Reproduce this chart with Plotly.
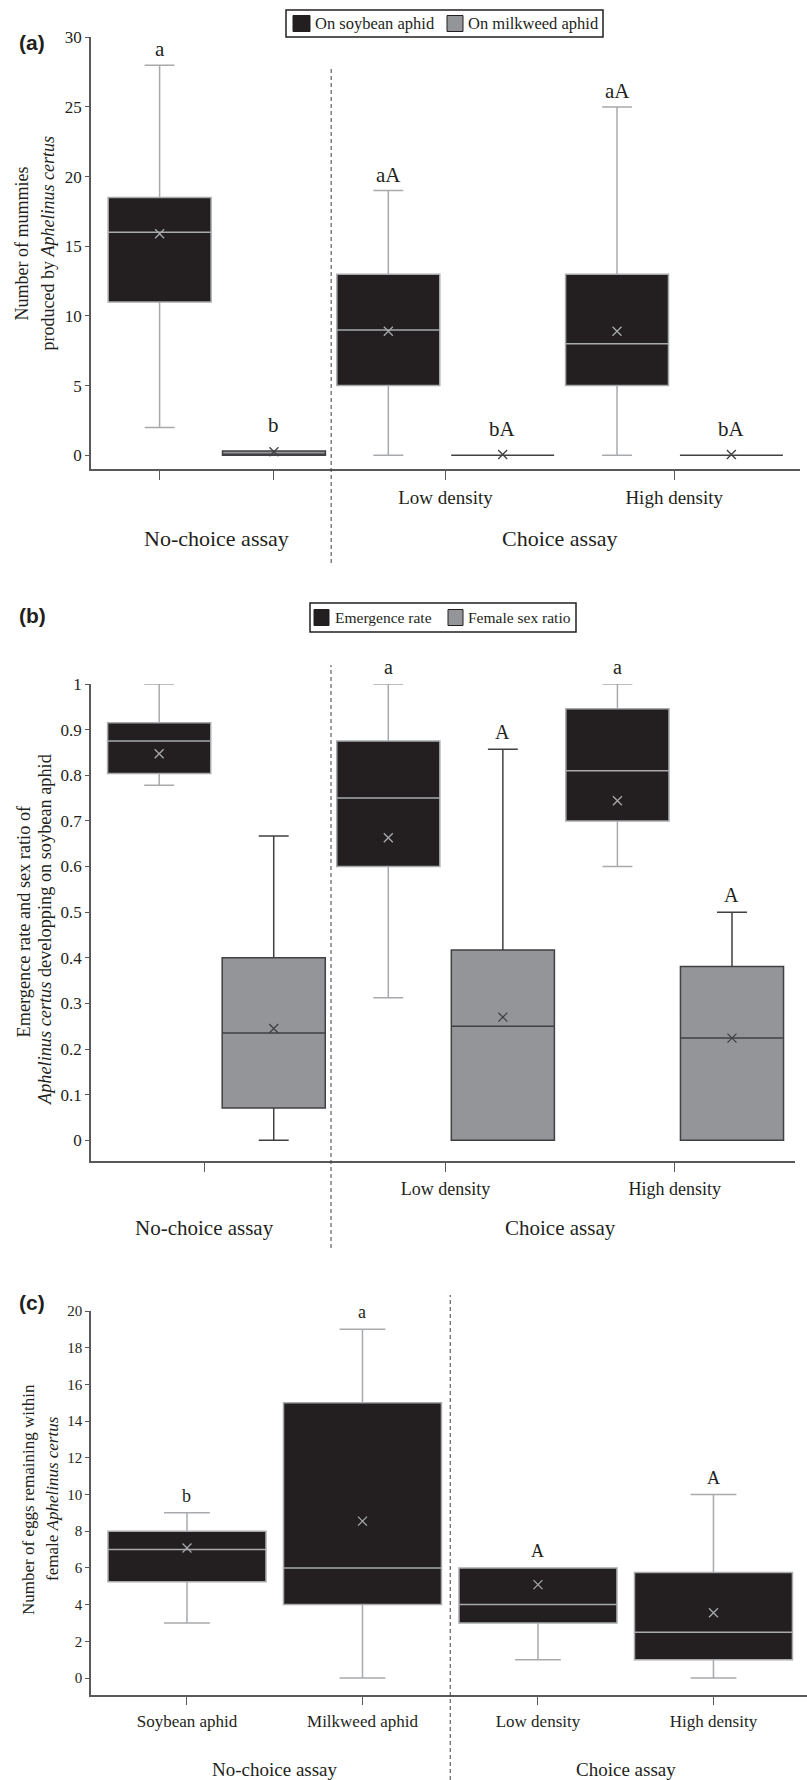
import plotly.graph_objects as go

W, H = 807, 1780


def fx(p):
    return p / W


def fy(p):
    return 1 - p / H


SERIF = "Liberation Serif, Times New Roman, serif"
SANS = "Liberation Sans, Arial, sans-serif"
INK = "#231f20"
DARK_FILL = "#231f20"
GRAY_FILL = "#939598"
LIGHT_LINE = "#a7a9ac"
DARK_LINE = "#414042"
AXIS = "#58595b"

# ---------------- data ----------------
assay_labels = ["No-choice assay", "Choice assay"]

# (a) number of mummies
a_groups = ["", "Low density", "High density"]
a_series = ["On soybean aphid", "On milkweed aphid"]
a_soy_lower = [2, 0, 0]
a_soy_q1 = [11, 5, 5]
a_soy_median = [16, 9, 8]
a_soy_q3 = [18.5, 13, 13]
a_soy_upper = [28, 19, 25]
a_soy_mean = [15.9, 8.9, 8.9]
a_soy_letters = ["a", "aA", "aA"]
a_mw_lower = [0, 0, 0]
a_mw_q1 = [0, 0, 0]
a_mw_median = [0, 0, 0]
a_mw_q3 = [0.3, 0, 0]
a_mw_upper = [0.3, 0, 0]
a_mw_mean = [0.25, 0.05, 0.05]
a_mw_letters = ["b", "bA", "bA"]
a_yticks = [0, 5, 10, 15, 20, 25, 30]
a_ytitle = ["Number of mummies", "produced by <i>Aphelinus certus</i>"]

# (b) emergence rate and sex ratio
b_groups = ["", "Low density", "High density"]
b_series = ["Emergence rate", "Female sex ratio"]
b_em_lower = [0.778, 0.3125, 0.6]
b_em_q1 = [0.804, 0.6, 0.7]
b_em_median = [0.875, 0.75, 0.81]
b_em_q3 = [0.915, 0.875, 0.946]
b_em_upper = [1.0, 1.0, 1.0]
b_em_mean = [0.847, 0.663, 0.744]
b_em_letters = ["", "a", "a"]
b_sr_lower = [0, 0, 0]
b_sr_q1 = [0.071, 0, 0]
b_sr_median = [0.235, 0.25, 0.224]
b_sr_q3 = [0.4, 0.417, 0.381]
b_sr_upper = [0.667, 0.857, 0.5]
b_sr_mean = [0.245, 0.27, 0.224]
b_sr_letters = ["", "A", "A"]
b_yticks = [0, 0.1, 0.2, 0.3, 0.4, 0.5, 0.6, 0.7, 0.8, 0.9, 1]
b_yticktext = ["0", "0.1", "0.2", "0.3", "0.4", "0.5", "0.6", "0.7", "0.8", "0.9", "1"]
b_ytitle = ["Emergence rate and sex ratio of",
            "<i>Aphelinus certus</i> developping on soybean aphid"]

# (c) eggs remaining
c_categories = ["Soybean aphid", "Milkweed aphid", "Low density", "High density"]
c_lower = [3, 0, 1, 0]
c_q1 = [5.25, 4, 3, 1]
c_median = [7, 6, 4, 2.5]
c_q3 = [8, 15, 6, 5.75]
c_upper = [9, 19, 6, 10]
c_mean = [7.08, 8.55, 5.09, 3.56]
c_letters = ["b", "a", "A", "A"]
c_yticks = [0, 2, 4, 6, 8, 10, 12, 14, 16, 18, 20]
c_ytitle = ["Number of eggs remaining within", "female <i>Aphelinus certus</i>"]

fig = go.Figure()
annotations = []
shapes = []


def add_box(xa, ya, pos, lo, q1, med, q3, up, mean, fill, line, letter, lfont, lshift):
    fig.add_trace(go.Box(
        x=[pos], q1=[q1], median=[med], q3=[q3], lowerfence=[lo], upperfence=[up],
        width=0.9, whiskerwidth=0.29, fillcolor=fill,
        line=dict(color=line, width=1.5), boxpoints=False,
        xaxis=xa, yaxis=ya, showlegend=False, hoverinfo="skip"))
    fig.add_trace(go.Scatter(
        x=[pos], y=[mean], mode="markers",
        marker=dict(symbol="x-thin", size=9, color=line, line=dict(color=line, width=1.3)),
        xaxis=xa, yaxis=ya, showlegend=False, hoverinfo="skip"))
    if letter:
        annotations.append(dict(
            x=pos, y=up, xref=xa, yref=ya, text=letter, showarrow=False,
            yanchor="middle", yshift=lshift, font=dict(family=SERIF, size=lfont, color=INK)))


# panel (a)
for g in range(len(a_groups)):
    add_box("x", "y", 2 * g, a_soy_lower[g], a_soy_q1[g], a_soy_median[g], a_soy_q3[g],
            a_soy_upper[g], a_soy_mean[g], DARK_FILL, LIGHT_LINE, a_soy_letters[g], 21, 16)
    add_box("x", "y", 2 * g + 1, a_mw_lower[g], a_mw_q1[g], a_mw_median[g], a_mw_q3[g],
            a_mw_upper[g], a_mw_mean[g], GRAY_FILL, DARK_LINE, a_mw_letters[g], 21, 26)

# panel (b)
for g in range(len(b_groups)):
    add_box("x2", "y2", 2 * g, b_em_lower[g], b_em_q1[g], b_em_median[g], b_em_q3[g],
            b_em_upper[g], b_em_mean[g], DARK_FILL, LIGHT_LINE, b_em_letters[g], 20, 17)
    add_box("x2", "y2", 2 * g + 1, b_sr_lower[g], b_sr_q1[g], b_sr_median[g], b_sr_q3[g],
            b_sr_upper[g], b_sr_mean[g], GRAY_FILL, DARK_LINE, b_sr_letters[g], 20, 17)

# panel (c)
for i in range(len(c_categories)):
    add_box("x3", "y3", i, c_lower[i], c_q1[i], c_median[i], c_q3[i], c_upper[i],
            c_mean[i], DARK_FILL, LIGHT_LINE, c_letters[i], 18, 17)

# ---------------- axes ----------------
common_x = dict(showline=True, linecolor=AXIS, linewidth=1.5, ticks="outside", ticklen=9,
                tickwidth=1.2, tickcolor=AXIS, showgrid=False, zeroline=False, automargin=False,
                tickfont=dict(family=SERIF, color=INK))
common_y = dict(showline=True, linecolor=AXIS, linewidth=1.5, ticks="outside", ticklen=4,
                tickwidth=1.2, tickcolor=AXIS, showgrid=False, zeroline=False, automargin=False,
                tickfont=dict(family=SERIF, color=INK))

fig.update_layout(
    xaxis=dict(common_x, domain=[fx(91), fx(800)], range=[-0.6, 5.6], anchor="y",
               tickvals=[0, 1, 2.5, 4.5], ticktext=["", "", a_groups[1], a_groups[2]],
               tickfont=dict(family=SERIF, color=INK, size=19), ticklabelstandoff=1),
    yaxis=dict(common_y, domain=[fy(469.2), fy(37.3)], range=[-1, 30], anchor="x",
               tickvals=a_yticks, tickfont=dict(family=SERIF, color=INK, size=17)),
    xaxis2=dict(common_x, domain=[fx(91), fx(795)], range=[-0.595, 5.55], anchor="y2",
                tickvals=[0.4, 2.5, 4.5], ticktext=["", b_groups[1], b_groups[2]],
                tickfont=dict(family=SERIF, color=INK, size=18), ticklabelstandoff=1),
    yaxis2=dict(common_y, domain=[fy(1161.3), fy(684)], range=[-0.046, 1], anchor="x2",
                tickvals=b_yticks, ticktext=b_yticktext,
                tickfont=dict(family=SERIF, color=INK, size=17)),
    xaxis3=dict(common_x, domain=[fx(91), 1], range=[-0.547, 3.533], anchor="y3",
                tickvals=[0, 1, 2, 3], ticktext=c_categories,
                tickfont=dict(family=SERIF, color=INK, size=17), ticklabelstandoff=1),
    yaxis3=dict(common_y, domain=[fy(1694.7), fy(1311)], range=[-0.91, 20], anchor="x3",
                tickvals=c_yticks, tickfont=dict(family=SERIF, color=INK, size=15)),
)

# dashed separators between assays
for xa, y0, y1 in [("x", 563, 69), ("x2", 1248, 665), ("x3", 1780, 1295)]:
    shapes.append(dict(type="line", xref=xa, yref="paper", x0=1.5, x1=1.5,
                       y0=fy(y0), y1=fy(y1), line=dict(color="#414042", width=1, dash="4px,3px")))

# group (assay) labels
for xa, xs, ypix, size in [("x", [0.5, 3.5], 538, 22), ("x2", [0.4, 3.5], 1227.7, 21),
                           ("x3", [0.5, 2.5], 1769.3, 19)]:
    for lab, xv in zip(assay_labels, xs):
        annotations.append(dict(x=xv, y=fy(ypix), xref=xa, yref="paper", text=lab,
                                showarrow=False, yanchor="middle",
                                font=dict(family=SERIF, size=size, color=INK)))

# y-axis titles (two rotated lines each)
for lines, xcs, ycs, size in [
    (a_ytitle, [21, 47], [243.5, 243.5], 18),
    (b_ytitle, [23, 45], [921.5, 930], 18.3),
    (c_ytitle, [28, 52], [1500, 1498], 17),
]:
    for text, xc, yc in zip(lines, xcs, ycs):
        annotations.append(dict(x=fx(xc), y=fy(yc), xref="paper", yref="paper", text=text,
                                showarrow=False, textangle=-90, xanchor="center", yanchor="middle",
                                font=dict(family=SERIF, size=size, color=INK)))

# panel labels
for lab, ypix in [("(a)", 42.5), ("(b)", 615), ("(c)", 1302)]:
    annotations.append(dict(x=fx(17), y=fy(ypix), xref="paper", yref="paper", text="<b>%s</b>" % lab,
                            showarrow=False, xanchor="left", yanchor="middle",
                            font=dict(family=SANS, size=21, color=INK)))

# legends (drawn boxes)
for series, (bx0, bx1, by0, by1), sw, tx, fsize in [
    (a_series, (286, 603, 10, 37), [(293, 310), (447, 463)], [313, 466], 16.5),
    (b_series, (310, 576, 603, 632), [(314, 329), (448, 463)], [333, 466], 15.5),
]:
    shapes.append(dict(type="rect", xref="paper", yref="paper", x0=fx(bx0), x1=fx(bx1),
                       y0=fy(by1), y1=fy(by0), line=dict(color="#231f20", width=1.5),
                       fillcolor="white", layer="above"))
    cy = (by0 + by1) / 2
    for name, (sx0, sx1), fill, t in zip(series, sw, [DARK_FILL, GRAY_FILL], tx):
        shapes.append(dict(type="rect", xref="paper", yref="paper", x0=fx(sx0), x1=fx(sx1),
                           y0=fy(cy + 8), y1=fy(cy - 8), fillcolor=fill,
                           line=dict(color="#231f20", width=1), layer="above"))
        annotations.append(dict(x=fx(t), y=fy(cy), xref="paper", yref="paper", text=name,
                                showarrow=False, xanchor="left", yanchor="middle",
                                font=dict(family=SERIF, size=fsize, color=INK)))

fig.update_layout(
    width=W, height=H, autosize=False,
    margin=dict(l=0, r=0, t=0, b=0, pad=0, autoexpand=False),
    paper_bgcolor="white", plot_bgcolor="white",
    showlegend=False, boxmode="overlay",
    annotations=annotations, shapes=shapes,
)

fig.write_html("out.html")
